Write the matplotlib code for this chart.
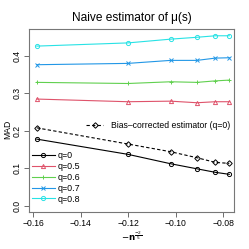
import matplotlib
matplotlib.use('Agg')
import matplotlib.pyplot as plt
import numpy as np

plt.rcParams['font.family'] = ['Liberation Sans', 'DejaVu Sans']

# sample sizes, x axis is -n^(-2/5)
n_vals = np.array([100, 200, 300, 400, 500, 600])
x = -n_vals ** (-2 / 5)

mad_q0 = [0.178, 0.1375, 0.1125, 0.099, 0.0896, 0.0843]
mad_q05 = [0.2846, 0.2775, 0.279, 0.2748, 0.2775, 0.2775]
mad_q06 = [0.329, 0.326, 0.3306, 0.329, 0.333, 0.335]
mad_q07 = [0.376, 0.3795, 0.3875, 0.3875, 0.3936, 0.3945]
mad_q08 = [0.4255, 0.434, 0.444, 0.449, 0.453, 0.453]
mad_bias_corr = [0.208, 0.165, 0.1445, 0.1285, 0.116, 0.1135]

series_labels = ['q=0', 'q=0.5', 'q=0.6', 'q=0.7', 'q=0.8']
series_colors = ['black', '#DF536B', '#61D04F', '#2297E6', '#28E2E5']
series_markers = ['o', '^', '+', 'x', 'o']

fig = plt.figure(figsize=(2.49, 2.49), dpi=100)
ax = fig.add_axes([0.118, 0.150, 0.822, 0.732])

handles = []
for vals, lab, col, mk in zip([mad_q0, mad_q05, mad_q06, mad_q07, mad_q08],
                              series_labels, series_colors, series_markers):
    h, = ax.plot(x, vals, color=col, marker=mk, ms=3, mfc='none', mew=0.7,
                 lw=0.8, label=lab)
    handles.append(h)

hb, = ax.plot(x, mad_bias_corr, color='black', ls=(0, (3, 2)), marker='D',
              ms=2.8, mfc='none', mew=0.7, lw=0.8,
              label='Bias\u2013corrected estimator (q=0)')

ax.set_xlim(-0.1616, -0.0754)
ax.set_ylim(-0.015, 0.470)
ax.set_xticks([-0.16, -0.14, -0.12, -0.10, -0.08])
ax.set_xticklabels(['\u22120.16', '\u22120.14', '\u22120.12', '\u22120.10', '\u22120.08'])
ax.set_yticks([0.0, 0.1, 0.2, 0.3, 0.4])
ax.set_yticklabels(['0.0', '0.1', '0.2', '0.3', '0.4'], rotation=90, va='center')
ax.tick_params(labelsize=6.2, length=3.5, width=0.6, pad=2, color='#555555')
for s in ax.spines.values():
    s.set_linewidth(0.8)
    s.set_color('#777777')

ax.set_title('Naive estimator of \u03bc(s)', fontsize=8.6, pad=6)
ax.set_ylabel('MAD', fontsize=6.2)
ax.yaxis.set_label_coords(-0.085, 0.45)
ax.set_xlabel(r'$-\mathbf{n}^{\frac{-2}{5}}$', fontsize=6.2, labelpad=1)

leg1 = ax.legend(handles=handles, loc='lower left', bbox_to_anchor=(-0.01, 0.02),
                 frameon=False, fontsize=6.4, handlelength=2.6, handletextpad=0.3,
                 labelspacing=0.2, borderaxespad=0.1)
ax.add_artist(leg1)
ax.legend(handles=[hb], loc='center left', bbox_to_anchor=(0.24, 0.47),
          frameon=False, fontsize=6.2, handlelength=2.0, handletextpad=0.9)

fig.savefig('out.png', dpi=100)
